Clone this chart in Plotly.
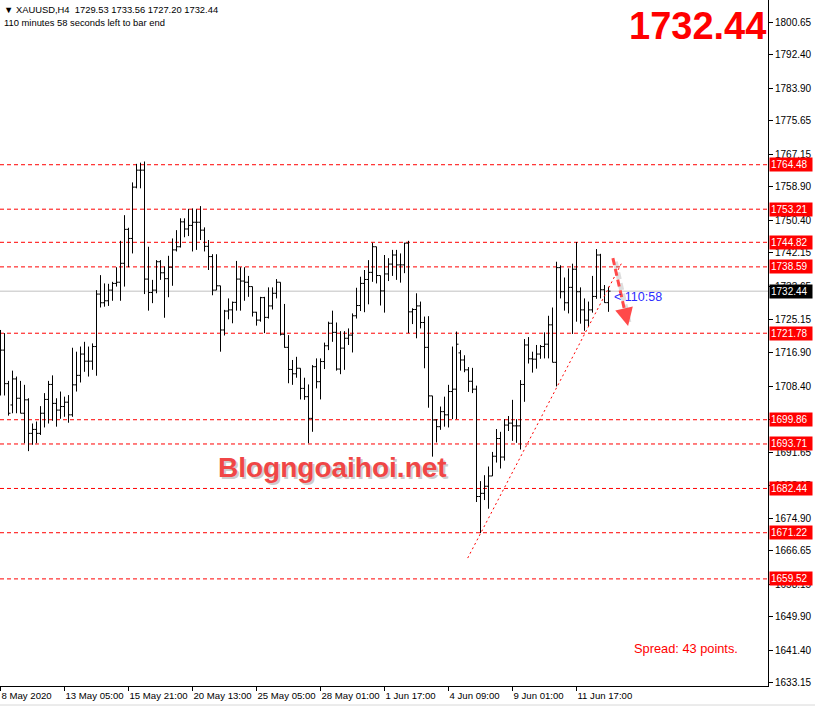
import plotly.graph_objects as go

# ---------------- data ----------------
opens = [1718.5,1717.5,1709.0,1703.6,1710.2,1705.3,1701.5,1704.9,1696.4,1697.4,
         1696.4,1701.5,1705.0,1708.8,1704.0,1702.3,1703.2,1704.3,1701.1,1708.7,
         1711.1,1716.5,1714.7,1714.7,1718.4,1731.7,1729.5,1730.0,1732.7,1734.4,
         1734.7,1739.5,1748.1,1745.8,1758.8,1763.1,1763.1,1735.5,1732.1,1732.7,
         1739.9,1737.1,1735.6,1738.5,1742.9,1743.7,1750.0,1748.2,1749.1,1749.9,
         1749.9,1747.9,1743.8,1741.2,1732.7,1733.8,1722.6,1727.4,1727.7,1729.6,
         1735.5,1735.0,1734.7,1733.6,1727.1,1725.1,1730.8,1725.8,1728.7,1731.9,
         1734.7,1721.5,1718.2,1712.6,1711.5,1712.9,1707.8,1705.7,1700.2,1713.3,
         1709.5,1714.6,1718.6,1724.3,1722.0,1712.7,1718.0,1720.5,1721.3,1726.2,
         1728.8,1734.4,1735.4,1737.2,1743.7,1736.4,1732.5,1736.8,1739.3,1741.6,
         1739.1,1739.1,1744.6,1727.2,1727.8,1728.7,1724.5,1718.2,1705.9,1699.8,
         1698.1,1701.9,1701.1,1707.0,1707.6,1716.8,1715.0,1712.5,1709.6,1707.6,
         1680.4,1681.2,1683.0,1685.6,1690.6,1695.1,1690.4,1698.5,1699.0,1698.3,
         1698.3,1708.8,1718.8,1715.3,1715.2,1716.5,1718.4,1719.0,1723.9,1714.4,
         1738.4,1732.3,1729.5,1733.4,1738.0,1732.3,1727.7,1725.1,1727.7,1731.1,
         1741.6,1732.8,1729.53]
highs = [1722.6,1721.8,1709.7,1712.3,1710.8,1709.7,1708.7,1705.3,1698.9,1699.4,
         1703.3,1706.6,1709.7,1711.1,1705.3,1707.0,1705.7,1706.1,1718.1,1717.1,
         1718.4,1719.6,1718.4,1719.2,1732.7,1736.5,1734.4,1734.3,1734.8,1738.5,
         1745.2,1751.7,1748.5,1760.0,1764.7,1765.0,1765.3,1743.7,1735.3,1740.3,
         1740.3,1738.7,1741.4,1745.8,1747.9,1750.9,1750.9,1753.3,1753.4,1753.2,
         1754.0,1748.6,1745.4,1741.8,1741.8,1733.8,1727.7,1730.6,1729.8,1740.1,
         1738.5,1738.5,1736.3,1733.6,1727.2,1731.0,1731.0,1733.4,1733.4,1735.5,
         1734.7,1729.2,1721.3,1715.0,1715.8,1712.9,1710.5,1708.8,1713.7,1715.4,
         1715.4,1719.4,1724.7,1727.5,1724.5,1722.3,1722.3,1723.0,1726.8,1733.3,
         1736.1,1737.8,1740.3,1744.7,1743.7,1736.4,1741.6,1740.8,1742.9,1742.9,
         1742.0,1744.7,1745.2,1728.1,1731.9,1729.8,1726.0,1726.1,1705.9,1700.0,
         1703.2,1705.7,1708.7,1718.4,1722.2,1717.5,1716.2,1713.2,1713.0,1708.5,
         1684.3,1685.8,1688.0,1691.7,1697.5,1696.8,1700.0,1700.8,1704.9,1700.0,
         1709.9,1720.3,1720.8,1717.1,1718.8,1718.8,1722.0,1726.2,1728.3,1739.9,
         1739.0,1735.9,1738.2,1739.4,1744.9,1733.4,1730.6,1729.8,1736.3,1743.1,
         1741.9,1734.0,1733.56]
lows = [1706.0,1706.0,1700.9,1701.5,1701.5,1701.5,1693.9,1691.9,1693.5,1693.9,
        1696.0,1697.9,1698.9,1699.6,1698.1,1700.1,1700.6,1699.1,1700.6,1707.0,
        1709.3,1712.0,1710.8,1712.5,1711.0,1728.3,1728.5,1728.7,1730.0,1733.6,
        1730.0,1733.6,1738.5,1742.0,1758.5,1758.5,1731.7,1727.5,1729.4,1731.9,
        1735.3,1725.7,1730.9,1733.8,1742.5,1743.5,1746.1,1746.4,1742.5,1742.9,
        1745.4,1742.5,1737.8,1731.4,1732.7,1717.1,1721.2,1725.3,1724.3,1727.5,
        1727.5,1730.0,1731.0,1726.0,1723.7,1724.7,1721.8,1725.5,1727.8,1730.6,
        1721.2,1718.1,1709.1,1708.7,1710.5,1705.0,1704.9,1693.9,1696.8,1707.8,
        1705.0,1712.7,1717.5,1719.6,1712.3,1711.4,1712.5,1718.8,1716.9,1725.5,
        1727.4,1727.1,1729.1,1734.8,1734.4,1728.8,1727.0,1735.0,1736.3,1735.3,
        1734.6,1737.0,1721.8,1724.1,1720.5,1723.0,1712.9,1702.9,1690.5,1694.1,
        1697.3,1698.1,1697.9,1700.0,1700.0,1712.3,1711.9,1706.9,1706.6,1679.0,
        1671.1,1679.5,1677.3,1685.6,1689.0,1687.5,1689.5,1697.0,1694.5,1694.0,
        1692.3,1704.4,1714.1,1711.8,1712.8,1715.3,1715.4,1715.4,1714.4,1708.3,
        1730.6,1727.5,1726.8,1721.6,1724.7,1724.2,1722.4,1723.4,1727.0,1730.5,
        1730.6,1729.5,1727.20]
closes = [1717.5,1709.0,1701.5,1710.2,1705.3,1701.5,1704.9,1696.4,1697.4,1696.4,
          1701.5,1705.0,1708.8,1704.0,1702.3,1703.2,1704.3,1701.1,1708.7,1711.1,
          1716.5,1714.7,1714.7,1718.4,1731.7,1729.5,1730.0,1732.7,1734.4,1734.7,
          1739.5,1748.1,1745.8,1758.8,1763.1,1763.1,1735.5,1732.1,1732.7,1739.9,
          1737.1,1735.6,1738.5,1742.9,1743.7,1750.0,1748.2,1749.1,1749.9,1749.9,
          1747.9,1743.8,1741.2,1732.7,1733.8,1722.6,1727.4,1727.7,1729.6,1735.5,
          1735.0,1734.7,1733.6,1727.1,1725.1,1730.8,1725.8,1728.7,1731.9,1734.7,
          1721.5,1718.2,1712.6,1711.5,1712.9,1707.8,1705.7,1700.2,1713.3,1709.5,
          1714.6,1718.6,1724.3,1722.0,1712.7,1718.0,1720.5,1721.3,1726.2,1728.8,
          1734.4,1735.4,1737.2,1743.7,1736.4,1732.5,1736.8,1739.3,1741.6,1739.1,
          1739.1,1744.6,1727.2,1727.8,1728.7,1724.5,1718.2,1705.9,1699.8,1698.1,
          1701.9,1701.1,1707.0,1707.6,1719.0,1715.0,1712.5,1709.6,1707.6,1680.4,
          1681.2,1683.0,1685.6,1690.6,1695.1,1690.4,1698.5,1699.0,1698.3,1698.3,
          1708.8,1718.8,1715.3,1715.2,1716.5,1718.4,1719.0,1723.9,1714.4,1738.4,
          1732.3,1729.5,1733.4,1738.0,1732.3,1727.7,1725.1,1727.7,1731.1,1741.6,
          1732.8,1729.53,1732.44]
bars = list(range(len(opens)))

levels = [1764.48, 1753.21, 1744.82, 1738.59, 1721.78, 1699.86, 1693.71, 1682.44, 1671.22, 1659.52]
bid = 1732.44

price_ticks = [1800.65, 1792.40, 1783.90, 1775.65, 1767.15, 1758.90, 1750.40, 1742.15, 1733.65,
               1725.15, 1716.90, 1708.40, 1699.90, 1691.65, 1683.15, 1674.90, 1666.65, 1658.15,
               1649.90, 1641.40, 1633.15]
time_tick_bars = [0, 16, 32, 48, 64, 80, 96, 112, 128, 144]
time_tick_labels = ["8 May 2020", "13 May 05:00", "15 May 21:00", "20 May 13:00", "25 May 05:00",
                    "28 May 01:00", "1 Jun 17:00", "4 Jun 09:00", "9 Jun 01:00", "11 Jun 17:00"]

trend_x = [116.8, 155.3]
trend_y = [1664.8, 1739.6]
arrow_x = [153.1, 156.6]
arrow_y = [1740.8, 1725.0]

header1 = "▼ XAUUSD,H4  1729.53 1733.56 1727.20 1732.44"
header2 = "110 minutes 58 seconds left to bar end"
timer_text = "< 110:58"
spread_text = "Spread: 43 points."
watermark = "Blogngoaihoi.net"

# ---------------- figure ----------------
W, H = 815, 708
PW, PH = 768, 686   # plot area in px
FONT = "Liberation Sans, Arial, sans-serif"

def px(xp):
    return xp / PW

def py(yp):
    return 1 - yp / PH

fig = go.Figure()
fig.add_trace(go.Ohlc(
    x=bars, open=opens, high=highs, low=lows, close=closes,
    increasing=dict(line=dict(color="black", width=1)),
    decreasing=dict(line=dict(color="black", width=1)),
    tickwidth=0.5, hoverinfo="skip", showlegend=False,
))

shapes = []
for lv in levels:
    shapes.append(dict(type="line", xref="paper", x0=0, x1=1, yref="y", y0=lv, y1=lv,
                       line=dict(color="#ff0000", width=1, dash="4px,3px"), layer="below"))
shapes.append(dict(type="line", xref="paper", x0=0, x1=1, yref="y", y0=bid, y1=bid,
                   line=dict(color="#c0c0c0", width=1), layer="below"))
# trend line
shapes.append(dict(type="line", xref="x", yref="y", x0=trend_x[0], y0=trend_y[0],
                   x1=trend_x[1], y1=trend_y[1], line=dict(color="#ff0000", width=1, dash="2px,3px")))
# arrow shadow + arrow
shapes.append(dict(type="line", xref="x", yref="y", x0=arrow_x[0] + 0.6, y0=arrow_y[0] - 0.9,
                   x1=arrow_x[1] + 0.6, y1=arrow_y[1] - 0.9,
                   line=dict(color="rgba(120,120,120,0.25)", width=5, dash="7px,4px")))
shapes.append(dict(type="line", xref="x", yref="y", x0=arrow_x[0], y0=arrow_y[0],
                   x1=arrow_x[1], y1=arrow_y[1],
                   line=dict(color="#ff4a4a", width=3, dash="7px,4px")))
# bottom window edge
shapes.append(dict(type="line", xref="paper", yref="paper", x0=-0.01, x1=1.07,
                   y0=py(705), y1=py(705), line=dict(color="#d8d8d8", width=1)))

ann = []
for lv in levels:
    ann.append(dict(xref="paper", x=1, xanchor="left", xshift=1, yref="y", y=lv, yanchor="middle",
                    text=f"{lv:.2f}", showarrow=False, bgcolor="#ff0000", borderpad=1,
                    width=40, align="left", font=dict(family=FONT, size=10, color="white")))
ann.append(dict(xref="paper", x=1, xanchor="left", xshift=1, yref="y", y=bid, yanchor="middle",
                text=f"{bid:.2f}", showarrow=False, bgcolor="#000000", borderpad=1,
                width=40, align="left", font=dict(family=FONT, size=10, color="white")))
# arrow head
ann.append(dict(xref="x", yref="y", x=arrow_x[1] + 0.3, y=arrow_y[1] - 1.4, text="", showarrow=True,
                arrowhead=2, arrowsize=1.2, arrowwidth=3, arrowcolor="#ff4a4a", ax=-3, ay=-13))
# timer
ann.append(dict(xref="x", yref="y", x=bars[-1] + 0.9, y=bid - 1.6, xanchor="left", yanchor="middle",
                text=timer_text, showarrow=False, font=dict(family=FONT, size=12.5, color="#2b2bff")))
# header
ann.append(dict(xref="paper", yref="paper", x=px(2), y=py(2), xanchor="left", yanchor="top",
                text=header1, showarrow=False, font=dict(family=FONT, size=9.4, color="black")))
ann.append(dict(xref="paper", yref="paper", x=px(2), y=py(15), xanchor="left", yanchor="top",
                text=header2, showarrow=False, font=dict(family=FONT, size=9.4, color="black")))
# big price
ann.append(dict(xref="paper", yref="paper", x=px(768), y=py(26), xanchor="right", yanchor="middle",
                text=f"<b>{bid:.2f}</b>", showarrow=False, font=dict(family=FONT, size=38, color="#ff0000")))
# watermark (shadow + text)
ann.append(dict(xref="paper", yref="paper", x=px(334), y=py(469), xanchor="center", yanchor="middle",
                text=f"<b>{watermark}</b>", showarrow=False,
                font=dict(family=FONT, size=28, color="rgba(110,110,110,0.35)")))
ann.append(dict(xref="paper", yref="paper", x=px(332), y=py(467), xanchor="center", yanchor="middle",
                text=f"<b>{watermark}</b>", showarrow=False,
                font=dict(family=FONT, size=28, color="#f04646")))
# spread
ann.append(dict(xref="paper", yref="paper", x=px(632), y=py(648), xanchor="left", yanchor="middle",
                text=spread_text, showarrow=False, font=dict(family=FONT, size=12.8, color="#ff0000")))

fig.update_layout(
    width=W, height=H, margin=dict(l=0, r=W - PW, t=0, b=H - PH, autoexpand=False),
    paper_bgcolor="white", plot_bgcolor="white", showlegend=False,
    shapes=shapes, annotations=ann, dragmode=False,
    xaxis=dict(range=[-0.125, -0.125 + PW / 4.0], showgrid=False, zeroline=False,
               showline=True, linecolor="black", linewidth=1, mirror=True,
               ticks="outside", ticklen=4, tickcolor="black", tickwidth=1,
               tickvals=time_tick_bars, ticktext=time_tick_labels,
               ticklabelposition="outside right", tickangle=0,
               tickfont=dict(family=FONT, size=9.6, color="black"),
               rangeslider=dict(visible=False), fixedrange=True),
    yaxis=dict(range=[1806.225 - PH / 3.946, 1806.225], side="right", showgrid=False, zeroline=False,
               showline=True, linecolor="black", linewidth=1,
               ticks="outside", ticklen=4, tickcolor="black", tickwidth=1,
               tickvals=price_ticks, ticktext=[f"{v:.2f}" for v in price_ticks],
               tickfont=dict(family=FONT, size=10, color="black"), fixedrange=True),
)

fig.write_html("out.html", config={"displayModeBar": False},
               post_script="document.body.style.margin='0';document.body.style.padding='0';")
